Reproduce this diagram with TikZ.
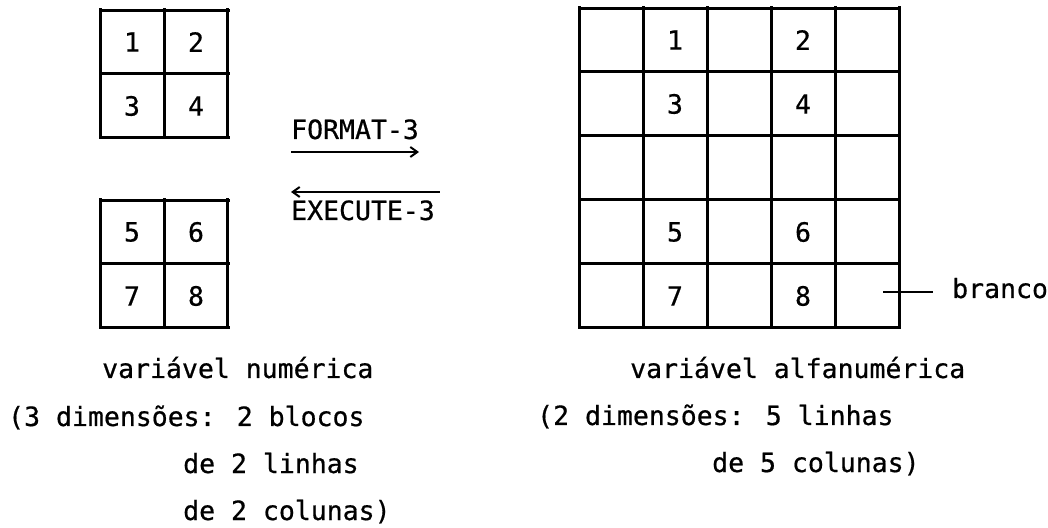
\documentclass[tikz,border=0pt]{standalone}
\usepackage{fontspec}
\setmainfont{DejaVu Sans Mono}[FakeBold=0.6]
\usetikzlibrary{arrows.meta}
\begin{document}
\begin{tikzpicture}[
  x=1pt, y=1pt,
  every node/.style={
    font=\fontsize{26.5}{30}\selectfont,
    inner sep=0pt
  },
  grid/.style={line width=3pt, line cap=rect},
  arrow/.style={-{Straight Barb[length=7pt,width=10pt]}, line width=2pt},
  txt/.style={anchor=base west}
]
\useasboundingbox (0,0) rectangle (1048,527);

% numeric variable: 2 blocks of 2x2
\draw[grid, shift={(100,389)}] (0,0) grid[step=64pt] (128,128);
\draw[grid, shift={(100,199)}] (0,0) grid[step=64pt] (128,128);
\node (n1) at (132,485) {1};
\node (n2) at (196,485) {2};
\node (n3) at (132,421) {3};
\node (n4) at (196,421) {4};
\node (n5) at (132,295) {5};
\node (n6) at (196,295) {6};
\node (n7) at (132,231) {7};
\node (n8) at (196,231) {8};

% alphanumeric variable: 5x5
\draw[grid, shift={(579,199)}] (0,0) grid[step=64pt] (320,320);
\node (a1) at (675,487) {1};
\node (a2) at (803,487) {2};
\node (a3) at (675,423) {3};
\node (a4) at (803,423) {4};
\node (a5) at (675,295) {5};
\node (a6) at (803,295) {6};
\node (a7) at (675,231) {7};
\node (a8) at (803,231) {8};

% conversions
\node (fmt) [txt] at (291,388) {FORMAT-3};
\node (exe) [txt] at (291,307) {EXECUTE-3};
\coordinate (fmtL) at ([yshift=-13pt]fmt.base west);
\coordinate (fmtR) at ([yshift=-13pt]fmt.base east);
\coordinate (exeL) at ([yshift=28pt]exe.base west);
\coordinate (exeR) at ([xshift=5pt,yshift=28pt]exe.base east);
\draw[arrow] (fmtL) -- (fmtR);
\draw[arrow] (exeR) -- (exeL);

% blank cell
\node (branco) [txt] at (952,229) {branco};
\coordinate (brL) at (883,235);
\draw[line width=2pt] (brL) -- ([xshift=-19pt]brL -| branco.west);

% captions
\node (numvar) [txt] at (102,149) {variável numérica};
\node (numdim) [txt] at (8,101) {(3 dimensões: 2 blocos};
\node (numlin) [txt] at (183,54) {de 2 linhas};
\node (numcol) [txt] at (183,7) {de 2 colunas)};
\node (alfvar) [txt] at (630,149) {variável alfanumérica};
\node (alfdim) [txt] at (537,102) {(2 dimensões: 5 linhas};
\node (alfcol) [txt] at (712,55) {de 5 colunas)};
\end{tikzpicture}
\end{document}
